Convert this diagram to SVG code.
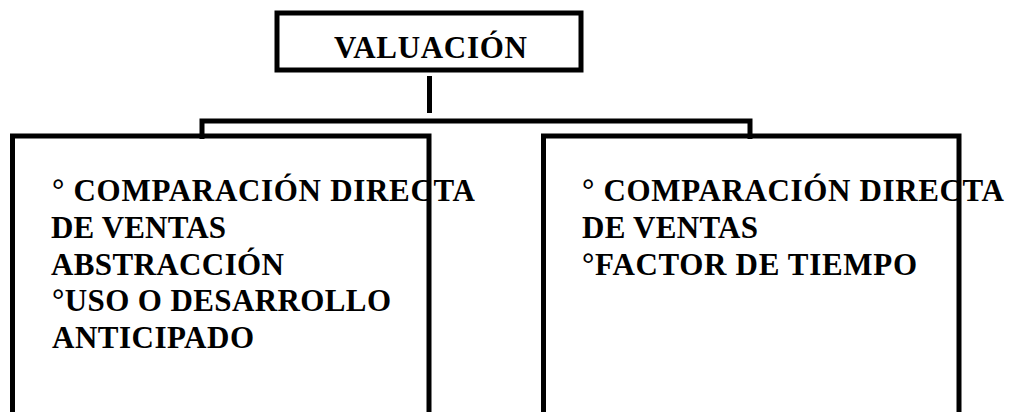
<svg xmlns="http://www.w3.org/2000/svg" width="1011" height="412" viewBox="0 0 1011 412">
<style>
.box{fill:none;stroke:#000;stroke-width:5}
.con{fill:none;stroke:#000;stroke-width:5}
</style>
<rect width="1011" height="412" fill="#fff"/>
<g id="connectors">
<line class="con" x1="429.5" y1="76" x2="429.5" y2="113"/>
<polyline class="con" points="202,139 202,121 750,121 750,139"/>
</g>
<g id="node-valuacion" font-family="Liberation Serif" font-weight="bold" font-size="31" fill="#000">
<text x="334" y="58" textLength="193" lengthAdjust="spacing">VALUACIÓN</text>
<rect class="box" x="277" y="13" width="304" height="57"/>
</g>
<g id="node-left" font-family="Liberation Serif" font-weight="bold" font-size="31" fill="#000">
<text x="52" y="201" textLength="423" lengthAdjust="spacing">° COMPARACIÓN DIRECTA</text>
<text x="51" y="238" textLength="175" lengthAdjust="spacing">DE VENTAS</text>
<text x="51" y="274.5" textLength="233" lengthAdjust="spacing">ABSTRACCIÓN</text>
<text x="52" y="311" textLength="339" lengthAdjust="spacing">°USO O DESARROLLO</text>
<text x="52" y="348" textLength="202" lengthAdjust="spacing">ANTICIPADO</text>
<rect class="box" x="12.5" y="136" width="416.5" height="300"/>
</g>
<g id="node-right" font-family="Liberation Serif" font-weight="bold" font-size="31" fill="#000">
<text x="582" y="201" textLength="422" lengthAdjust="spacing">° COMPARACIÓN DIRECTA</text>
<text x="582" y="238" textLength="176" lengthAdjust="spacing">DE VENTAS</text>
<text x="582" y="274.5" textLength="335" lengthAdjust="spacing">°FACTOR DE TIEMPO</text>
<rect class="box" x="543.5" y="136" width="415.5" height="300"/>
</g>
</svg>
